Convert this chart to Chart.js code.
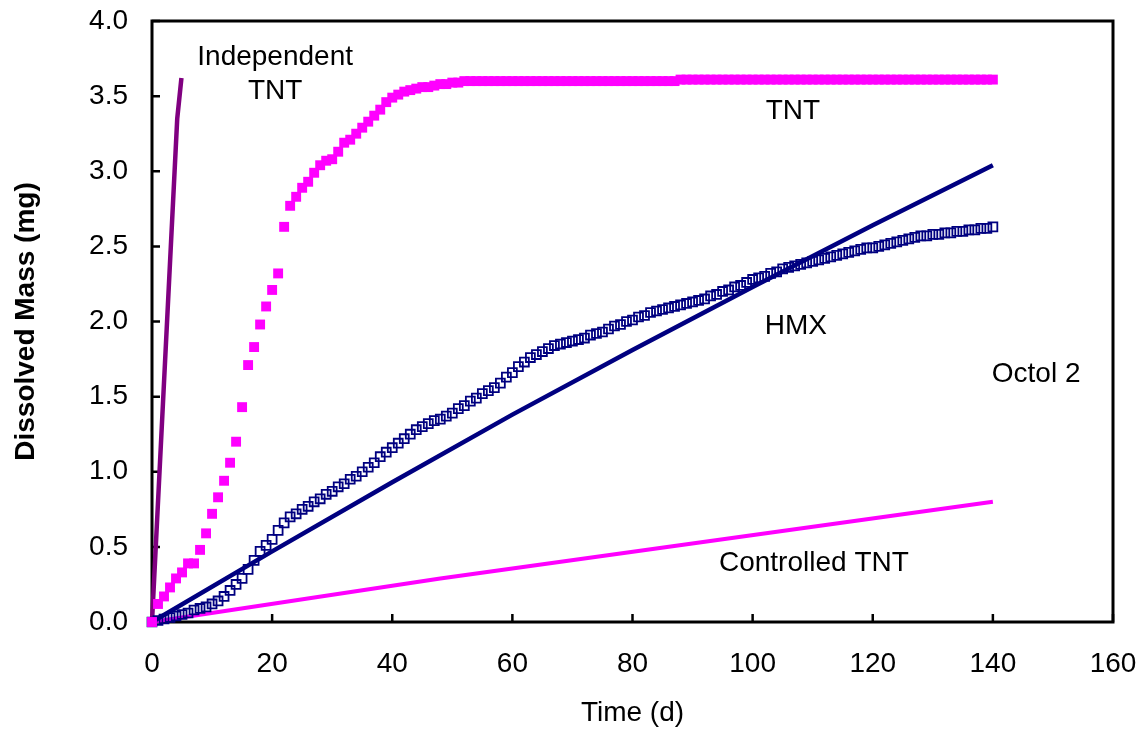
<!DOCTYPE html>
<html>
<head>
<meta charset="utf-8">
<title>Octol 2 dissolution</title>
<script src="https://cdn.jsdelivr.net/npm/chart.js@4/dist/chart.umd.min.js"></script>
<style>
  html, body { margin: 0; padding: 0; background: #ffffff; }
  #wrap { width: 1145px; height: 730px; position: relative; }
</style>
</head>
<body>
<div id="wrap"><canvas id="massChart"></canvas></div>
<script>
// measured data (time in days, mass in mg)
const days = [
  0,1,2,3,4,5,6,7,8,9,10,11,12,13,14,15,16,17,18,19,
  20,21,22,23,24,25,26,27,28,29,30,31,32,33,34,35,36,37,38,39,
  40,41,42,43,44,45,46,47,48,49,50,51,52,53,54,55,56,57,58,59,
  60,61,62,63,64,65,66,67,68,69,70,71,72,73,74,75,76,77,78,79,
  80,81,82,83,84,85,86,87,88,89,90,91,92,93,94,95,96,97,98,99,
  100,101,102,103,104,105,106,107,108,109,110,111,112,113,114,115,116,117,118,119,
  120,121,122,123,124,125,126,127,128,129,130,131,132,133,134,135,136,137,138,139,140
];

const tntMass = [
  0.00,0.12,0.17,0.23,0.29,0.33,0.39,0.39,0.48,0.59,
  0.72,0.83,0.94,1.06,1.20,1.43,1.71,1.83,1.98,2.10,
  2.21,2.32,2.63,2.77,2.83,2.89,2.93,2.99,3.04,3.07,
  3.08,3.13,3.19,3.21,3.25,3.29,3.33,3.37,3.41,3.46,
  3.49,3.51,3.53,3.54,3.55,3.56,3.56,3.57,3.58,3.58,
  3.59,3.59,3.60,3.60,3.60,3.60,3.60,3.60,3.60,3.60,
  3.60,3.60,3.60,3.60,3.60,3.60,3.60,3.60,3.60,3.60,
  3.60,3.60,3.60,3.60,3.60,3.60,3.60,3.60,3.60,3.60,
  3.60,3.60,3.60,3.60,3.60,3.60,3.60,3.60,3.61,3.61,
  3.61,3.61,3.61,3.61,3.61,3.61,3.61,3.61,3.61,3.61,
  3.61,3.61,3.61,3.61,3.61,3.61,3.61,3.61,3.61,3.61,
  3.61,3.61,3.61,3.61,3.61,3.61,3.61,3.61,3.61,3.61,
  3.61,3.61,3.61,3.61,3.61,3.61,3.61,3.61,3.61,3.61,
  3.61,3.61,3.61,3.61,3.61,3.61,3.61,3.61,3.61,3.61,
  3.61
];

const hmxMass = [
  0.00,0.01,0.02,0.03,0.04,0.05,0.06,0.08,0.09,0.10,
  0.12,0.14,0.17,0.21,0.25,0.29,0.35,0.41,0.47,0.51,
  0.55,0.61,0.66,0.70,0.72,0.75,0.77,0.80,0.82,0.85,
  0.87,0.90,0.92,0.95,0.97,1.00,1.03,1.06,1.10,1.13,
  1.16,1.19,1.22,1.25,1.28,1.30,1.32,1.34,1.35,1.37,
  1.39,1.42,1.44,1.47,1.49,1.52,1.54,1.56,1.59,1.63,
  1.66,1.70,1.73,1.76,1.78,1.80,1.82,1.84,1.85,1.86,
  1.87,1.88,1.89,1.91,1.92,1.93,1.95,1.97,1.98,2.00,
  2.01,2.03,2.04,2.06,2.07,2.08,2.09,2.10,2.11,2.12,
  2.13,2.14,2.15,2.17,2.18,2.20,2.21,2.23,2.24,2.26,
  2.28,2.29,2.30,2.32,2.33,2.35,2.36,2.37,2.38,2.39,
  2.40,2.41,2.42,2.43,2.44,2.45,2.46,2.47,2.48,2.49,
  2.49,2.50,2.51,2.52,2.53,2.54,2.55,2.56,2.57,2.57,
  2.58,2.58,2.59,2.59,2.60,2.60,2.61,2.61,2.62,2.62,
  2.63
];

// model curves
const indepTime = [0, 4.2, 4.9];
const indepMass = [0, 3.35, 3.62];
const ctrlTime = [0, 48, 140];
const ctrlMass = [0, 0.29, 0.80];
const hmxFitTime = [0, 20, 40, 60, 80, 100, 120, 140];
const hmxFitMass = [0, 0.47, 0.93, 1.38, 1.81, 2.23, 2.64, 3.04];

// axis ticks
const xTicks = [0, 20, 40, 60, 80, 100, 120, 140, 160];
const yTicks = [0, 0.5, 1.0, 1.5, 2.0, 2.5, 3.0, 3.5, 4.0];

// text labels inside the plot, placed in data units
const notes = [
  { text: "Independent", x: 20.5, y: 3.76 },
  { text: "TNT", x: 20.5, y: 3.53 },
  { text: "TNT", x: 106.7, y: 3.40 },
  { text: "HMX", x: 107.2, y: 1.97 },
  { text: "Octol 2", x: 147.2, y: 1.65 },
  { text: "Controlled TNT", x: 110.2, y: 0.39 }
];

const FONT = "Arial, 'Liberation Sans', Helvetica, sans-serif";

function toPoints(xs, ys) {
  return xs.map((x, i) => ({ x: x, y: ys[i] }));
}

// frame, inside tick marks and free text
const decorPlugin = {
  id: "decor",
  beforeDatasetsDraw(chart) {
    const { ctx, chartArea: a, scales } = chart;
    ctx.save();
    ctx.strokeStyle = "#000000";
    ctx.lineWidth = 2.5;
    ctx.beginPath();
    xTicks.forEach(v => {
      const px = scales.x.getPixelForValue(v);
      ctx.moveTo(px, a.bottom);
      ctx.lineTo(px, a.bottom - 8);
    });
    yTicks.forEach(v => {
      const py = scales.y.getPixelForValue(v);
      ctx.moveTo(a.left, py);
      ctx.lineTo(a.left + 8, py);
    });
    ctx.stroke();
    ctx.lineWidth = 3;
    ctx.strokeRect(a.left, a.top, a.right - a.left, a.bottom - a.top);
    ctx.restore();
  },
  afterDatasetsDraw(chart) {
    const { ctx, scales } = chart;
    ctx.save();
    ctx.fillStyle = "#000000";
    ctx.font = "28px " + FONT;
    ctx.textAlign = "center";
    ctx.textBaseline = "middle";
    notes.forEach(n => {
      ctx.fillText(n.text, scales.x.getPixelForValue(n.x), scales.y.getPixelForValue(n.y));
    });
    ctx.restore();
  }
};

const ctx = document.getElementById("massChart");

new Chart(ctx, {
  type: "scatter",
  data: {
    datasets: [
      {
        label: "TNT",
        data: toPoints(days, tntMass),
        pointStyle: "rect",
        pointRadius: 7,
        pointBorderWidth: 0,
        backgroundColor: "#ff00ff",
        borderColor: "#ff00ff",
        showLine: false,
        clip: false
      },
      {
        label: "HMX",
        data: toPoints(days, hmxMass),
        pointStyle: "rect",
        pointRadius: 6.3,
        pointBorderWidth: 1.8,
        backgroundColor: "rgba(0,0,0,0)",
        borderColor: "#000080",
        showLine: false,
        clip: false
      },
      {
        label: "HMX model",
        data: toPoints(hmxFitTime, hmxFitMass),
        showLine: true,
        borderColor: "#000080",
        borderWidth: 4.5,
        pointRadius: 0,
        tension: 0,
        clip: false
      },
      {
        label: "Controlled TNT",
        data: toPoints(ctrlTime, ctrlMass),
        showLine: true,
        borderColor: "#ff00ff",
        borderWidth: 4,
        pointRadius: 0,
        tension: 0,
        clip: false
      },
      {
        label: "Independent TNT",
        data: toPoints(indepTime, indepMass),
        showLine: true,
        borderColor: "#800080",
        borderWidth: 4.5,
        pointRadius: 0,
        tension: 0,
        clip: false
      }
    ]
  },
  options: {
    responsive: true,
    maintainAspectRatio: false,
    animation: false,
    devicePixelRatio: 1,
    layout: {
      padding: { top: 21, right: 32, left: 0, bottom: 0 }
    },
    plugins: {
      legend: { display: false },
      tooltip: { enabled: false }
    },
    scales: {
      x: {
        type: "linear",
        min: 0,
        max: 160,
        afterFit: scale => {
          scale.height = 108;
          scale.paddingLeft = 0;
          scale.paddingRight = 0;
        },
        afterBuildTicks: scale => { scale.ticks = xTicks.map(v => ({ value: v })); },
        grid: { display: false, drawTicks: false },
        border: { display: false },
        ticks: {
          color: "#000000",
          padding: 25,
          maxRotation: 0,
          font: { family: FONT, size: 28, lineHeight: 1.2 },
          callback: v => String(v)
        },
        title: {
          display: true,
          text: "Time (d)",
          color: "#000000",
          padding: { top: 0, bottom: 0 },
          font: { family: FONT, size: 28, lineHeight: 1.2 }
        }
      },
      y: {
        type: "linear",
        min: 0,
        max: 4,
        afterFit: scale => {
          scale.width = 152;
          scale.paddingTop = 0;
          scale.paddingBottom = 0;
        },
        afterBuildTicks: scale => { scale.ticks = yTicks.map(v => ({ value: v })); },
        grid: { display: false, drawTicks: false },
        border: { display: false },
        ticks: {
          color: "#000000",
          padding: 24,
          font: { family: FONT, size: 28, lineHeight: 1.2 },
          callback: v => Number(v).toFixed(1)
        },
        title: {
          display: true,
          text: "Dissolved Mass (mg)",
          color: "#000000",
          padding: { top: 9, bottom: 0 },
          font: { family: FONT, size: 28, weight: "bold", lineHeight: 1.2 }
        }
      }
    }
  },
  plugins: [decorPlugin]
});
</script>
</body>
</html>
